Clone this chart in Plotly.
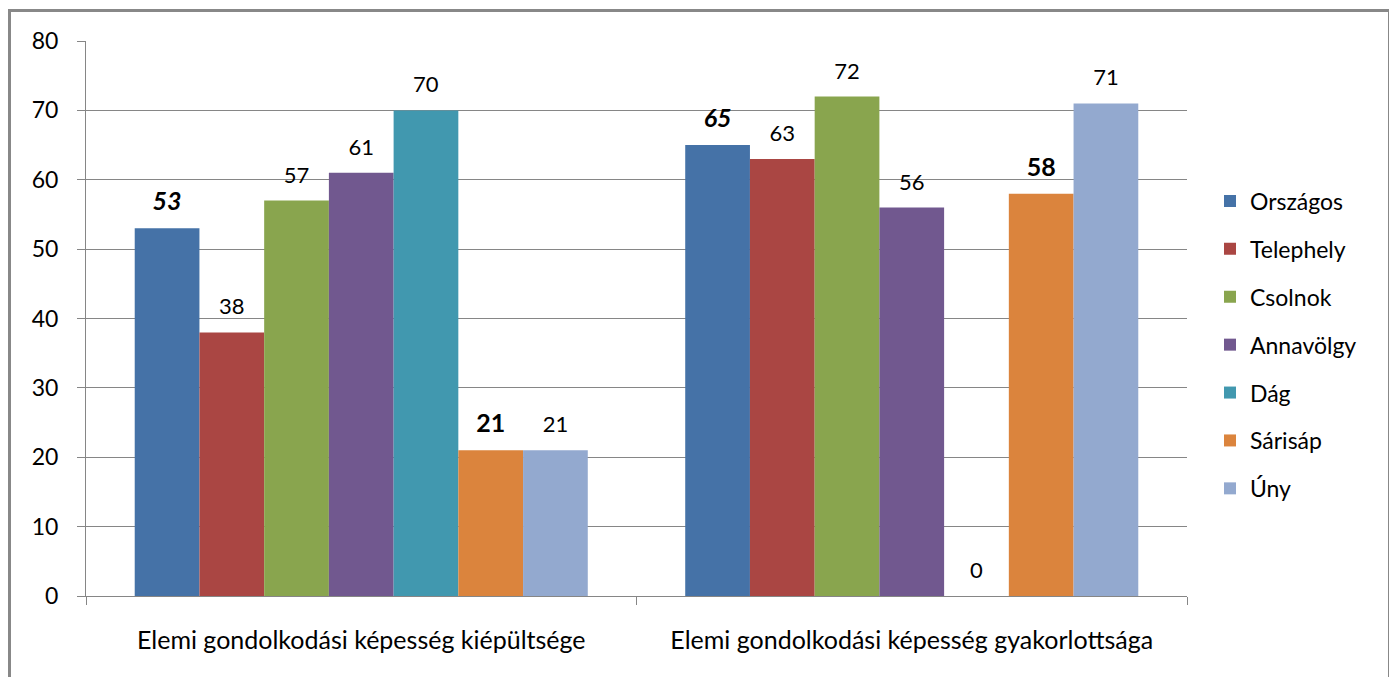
import plotly.graph_objects as go

categories = ["Elemi gondolkodási képesség kiépültsége",
              "Elemi gondolkodási képesség gyakorlottsága"]
series_names = ["Országos", "Telephely", "Csolnok", "Annavölgy", "Dág", "Sárisáp", "Úny"]
orszagos = [53, 65]
telephely = [38, 63]
csolnok = [57, 72]
annavolgy = [61, 56]
dag = [70, 0]
sarisap = [21, 58]
uny = [21, 71]
values = [orszagos, telephely, csolnok, annavolgy, dag, sarisap, uny]
colors = ["#4572A7", "#AA4643", "#89A54E", "#71588F", "#4198AF", "#DB843D", "#93A9CF"]
y_ticks = [0, 10, 20, 30, 40, 50, 60, 70, 80]

FONT = "Lato"
label_templates = {
    "Országos": "<span style='font-size:25px'><b><i>%{y}</i></b></span><br> ",
    "Sárisáp": "<span style='font-size:25px'><b>%{y}</b></span><br> ",
}
default_template = "<span style='font-size:22px'>%{y}</span><br> "

fig = go.Figure()
for i, (name, vals) in enumerate(zip(series_names, values)):
    fig.add_trace(go.Bar(
        name=name, x=categories, y=vals,
        marker=dict(color=colors[i], line=dict(width=0)),
        texttemplate=label_templates.get(name, default_template),
        textposition="outside",
        textfont=dict(family=FONT, size=10, color="black"),
        constraintext="none",
        cliponaxis=False,
        legendgroup=name,
        hoverinfo="x+y+name",
    ))

# page body has an 8px margin; work in screen pixels and shift
OFF = 8
W, H = 1397 - OFF, 677 - OFF
L, R, T, B = 86 - OFF, 1187 - OFF, 41 - OFF, 596 - OFF
pw, ph = R - L, B - T

def px(x):
    return (x - OFF - L) / pw

def py(y):
    return (B - (y - OFF)) / ph

fig.update_layout(
    width=W, height=H,
    margin=dict(l=L, r=W - R, t=T, b=H - B, pad=0),
    barmode="group", bargap=0.177, bargroupgap=0,
    paper_bgcolor="white", plot_bgcolor="white",
    font=dict(family=FONT, size=23, color="black"),
    showlegend=True,
    legend=dict(
        x=px(1210), y=py(345), xanchor="left", yanchor="middle",
        font=dict(family=FONT, size=23, color="black"),
        tracegroupgap=15, traceorder="grouped",
        itemsizing="constant", bgcolor="rgba(0,0,0,0)",
    ),
    xaxis=dict(
        type="category",
        showline=True, linecolor="#868686", linewidth=1,
        ticks="outside", ticklen=8, tickcolor="#868686", tickwidth=1,
        tickson="boundaries",
        showgrid=False,
        tickfont=dict(family=FONT, size=25, color="black"),
        ticklabelstandoff=22,
    ),
    yaxis=dict(
        range=[0, 80], tickvals=y_ticks,
        showline=True, linecolor="#868686", linewidth=1,
        ticks="outside", ticklen=8, tickcolor="#868686", tickwidth=1,
        showgrid=True, gridcolor="#868686", gridwidth=1,
        zeroline=False,
        tickfont=dict(family=FONT, size=23, color="black"),
        ticklabelstandoff=14,
    ),
    shapes=[dict(
        type="rect", xref="paper", yref="paper",
        x0=px(9.5), x1=px(1389.5), y0=py(700), y1=py(10.5),
        line=dict(color="#888888", width=3), fillcolor="rgba(0,0,0,0)",
        layer="above",
    )],
)

fig.write_html("out.html")
